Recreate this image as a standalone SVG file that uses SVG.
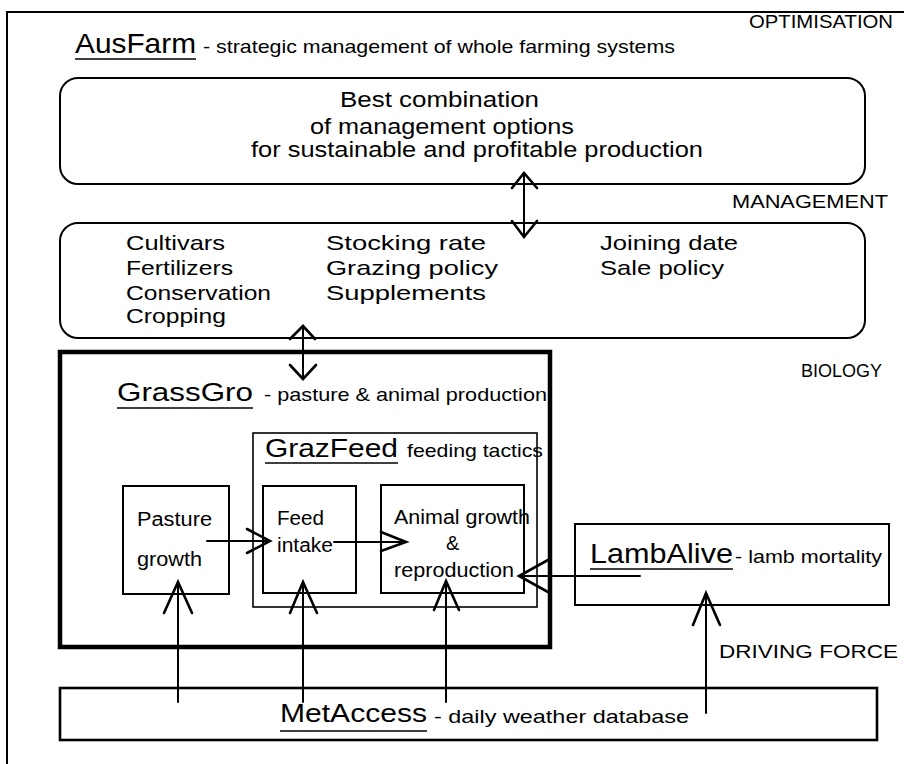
<svg xmlns="http://www.w3.org/2000/svg" width="904" height="764" viewBox="0 0 904 764">
<style>
.bx{fill:none;stroke:#000;stroke-width:2}
.thick{fill:none;stroke:#000;stroke-width:4.5}
.thin{fill:none;stroke:#000;stroke-width:1.6}
.ln{fill:none;stroke:#000;stroke-width:2;stroke-linecap:round;stroke-linejoin:round}
.hd{fill:none;stroke:#000;stroke-width:2.6;stroke-linecap:round;stroke-linejoin:miter}
.ul{stroke:#000;stroke-width:1.6}
text{font-family:"Liberation Sans",Arial,"DejaVu Sans",sans-serif;fill:#000}
.ttl{font-size:26px}
.sm{font-size:19px}
.md{font-size:21px}
.lb{font-size:19px}
</style>
<rect width="904" height="764" fill="#fff"/>
<path d="M7,764 V12 H904" class="bx"/>

<g id="optimisation-label"><text class="lb" x="749" y="28" textLength="144" lengthAdjust="spacingAndGlyphs">OPTIMISATION</text></g>
<g id="management-label"><text class="lb" x="732" y="208" textLength="156" lengthAdjust="spacingAndGlyphs">MANAGEMENT</text></g>
<g id="biology-label"><text class="lb" x="801" y="377" textLength="81" lengthAdjust="spacingAndGlyphs">BIOLOGY</text></g>
<g id="driving-force-label"><text class="lb" x="719" y="658" textLength="179" lengthAdjust="spacingAndGlyphs">DRIVING  FORCE</text></g>

<g id="ausfarm">
<text x="75" y="53" style="font-size:28px" textLength="121" lengthAdjust="spacingAndGlyphs">AusFarm</text>
<line class="ul" x1="75" y1="59" x2="196" y2="59"/>
<text class="sm" x="203" y="53" textLength="472" lengthAdjust="spacingAndGlyphs">- strategic management of whole farming systems</text>
</g>

<g id="optimisation-box">
<rect class="bx" x="60" y="78" width="805" height="106" rx="18"/>
<text style="font-size:22px" x="340" y="107" textLength="199" lengthAdjust="spacingAndGlyphs">Best combination</text>
<text style="font-size:22px" x="310" y="134" textLength="264" lengthAdjust="spacingAndGlyphs">of management options</text>
<text style="font-size:22px" x="251" y="157" textLength="452" lengthAdjust="spacingAndGlyphs">for sustainable and profitable production</text>
</g>

<g id="management-box">
<rect class="bx" x="60" y="223" width="805" height="115" rx="18"/>
<text class="md" x="126" y="250" textLength="99" lengthAdjust="spacingAndGlyphs">Cultivars</text>
<text class="md" x="126" y="275" textLength="107" lengthAdjust="spacingAndGlyphs">Fertilizers</text>
<text class="md" x="126" y="300" textLength="145" lengthAdjust="spacingAndGlyphs">Conservation</text>
<text class="md" x="126" y="323" textLength="100" lengthAdjust="spacingAndGlyphs">Cropping</text>
<text class="md" x="326" y="250" textLength="160" lengthAdjust="spacingAndGlyphs">Stocking rate</text>
<text class="md" x="326" y="275" textLength="172" lengthAdjust="spacingAndGlyphs">Grazing policy</text>
<text class="md" x="326" y="300" textLength="160" lengthAdjust="spacingAndGlyphs">Supplements</text>
<text class="md" x="600" y="250" textLength="138" lengthAdjust="spacingAndGlyphs">Joining date</text>
<text class="md" x="600" y="275" textLength="124" lengthAdjust="spacingAndGlyphs">Sale policy</text>
</g>

<g id="grassgro">
<rect class="thick" x="60" y="352" width="490" height="295"/>
<text x="117" y="401" style="font-size:25px" textLength="136" lengthAdjust="spacingAndGlyphs">GrassGro</text>
<line class="ul" x1="117" y1="408" x2="253" y2="408"/>
<text class="sm" x="264" y="401" textLength="283" lengthAdjust="spacingAndGlyphs">- pasture &amp; animal production</text>
</g>

<g id="grazfeed">
<rect class="thin" x="253" y="433" width="284" height="174"/>
<text x="265" y="457" style="font-size:26px" textLength="133" lengthAdjust="spacingAndGlyphs">GrazFeed</text>
<line class="ul" x1="265" y1="463" x2="398" y2="463"/>
<text class="sm" x="407" y="457" textLength="136" lengthAdjust="spacingAndGlyphs">feeding tactics</text>
</g>

<g id="pasture-growth">
<rect class="bx" x="123" y="486" width="106" height="108"/>
<text style="font-size:20px" x="137" y="526" textLength="75" lengthAdjust="spacingAndGlyphs">Pasture</text>
<text style="font-size:20px" x="137" y="566" textLength="65" lengthAdjust="spacingAndGlyphs">growth</text>
</g>

<g id="feed-intake">
<rect class="bx" x="263" y="486" width="93" height="107"/>
<text style="font-size:20px" x="277" y="525" textLength="47" lengthAdjust="spacingAndGlyphs">Feed</text>
<text style="font-size:20px" x="277" y="552" textLength="56" lengthAdjust="spacingAndGlyphs">intake</text>
</g>

<g id="animal-growth">
<rect class="bx" x="381" y="485" width="143" height="108"/>
<text style="font-size:20px" x="394" y="524" textLength="136" lengthAdjust="spacingAndGlyphs">Animal growth</text>
<text style="font-size:20px" x="446" y="550">&amp;</text>
<text style="font-size:20px" x="394" y="577" textLength="120" lengthAdjust="spacingAndGlyphs">reproduction</text>
</g>

<g id="lambalive">
<rect class="bx" x="575" y="524" width="314" height="81"/>
<text x="590" y="563" style="font-size:28px" textLength="143" lengthAdjust="spacingAndGlyphs">LambAlive</text>
<line class="ul" x1="590" y1="569" x2="733" y2="569"/>
<text class="sm" x="735" y="563" textLength="147" lengthAdjust="spacingAndGlyphs">- lamb mortality</text>
</g>

<g id="metaccess">
<rect x="60" y="688" width="817" height="52" fill="none" stroke="#000" stroke-width="2.6"/>
<text x="280" y="722" style="font-size:25px" textLength="147" lengthAdjust="spacingAndGlyphs">MetAccess</text>
<line class="ul" x1="280" y1="731" x2="427" y2="731"/>
<text class="sm" x="434" y="723" textLength="255" lengthAdjust="spacingAndGlyphs">- daily weather database</text>
</g>

<g id="connectors">
<!-- optimisation <-> management -->
<path class="ln" d="M524,174 V236"/>
<path class="hd" d="M512,188 L524,173 L537,188"/>
<path class="hd" d="M512,221 L524,237 L537,221"/>
<!-- management <-> grassgro -->
<path class="ln" d="M303,327 V378"/>
<path class="hd" d="M290,339 L303,326 L315,339"/>
<path class="hd" d="M290,365 L303,379 L316,365"/>
<!-- pasture -> feed intake -->
<path class="ln" d="M207,541 H269"/>
<path class="hd" d="M247,529 L270,541 L247,553"/>
<!-- feed intake -> animal growth -->
<path class="ln" d="M334,542 H405"/>
<path class="hd" d="M381,532 L406,542 L381,551"/>
<!-- lambalive -> animal growth -->
<path class="ln" d="M640,576 H520"/>
<path class="hd" d="M548,560 L519,576 L548,592"/>
<!-- metaccess -> pasture -->
<path class="ln" d="M178,702 V583"/>
<path class="hd" d="M164,613 L178,582 L192,613"/>
<!-- metaccess -> feed intake -->
<path class="ln" d="M303,702 V583"/>
<path class="hd" d="M290,613 L303,582 L317,613"/>
<!-- metaccess -> animal growth -->
<path class="ln" d="M446,702 V582"/>
<path class="hd" d="M434,610 L446,581 L459,610"/>
<!-- metaccess -> lambalive -->
<path class="ln" d="M706,713 V594"/>
<path class="hd" d="M693,625 L706,593 L720,625"/>
</g>
</svg>
